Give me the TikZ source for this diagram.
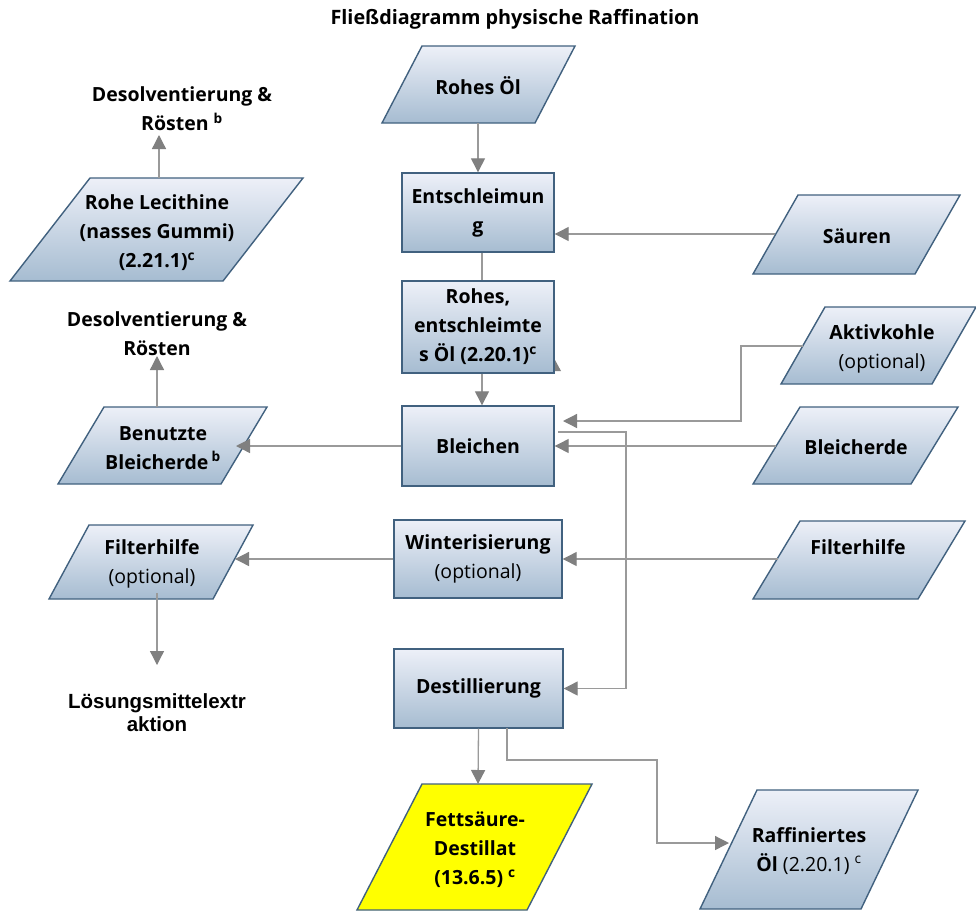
\documentclass[tikz,border=0pt]{standalone}
\usepackage{fontspec}
\setmainfont{Open Sans}
\newfontfamily\arialf{Liberation Sans}
\usetikzlibrary{arrows.meta}
\definecolor{bordc}{HTML}{41617F}
\definecolor{topc}{HTML}{EDF0F8}
\definecolor{botc}{HTML}{A6BCD1}
\definecolor{linec}{HTML}{9A9A9A}
\definecolor{tipc}{HTML}{808080}
\definecolor{yel}{HTML}{FFFF00}
\newcommand\parapath[6][parashape]{\path[#1] (#2,#3) -- ++(#4,0) -- ++(-#6,#5) -- ++(-#4,0) -- cycle;}
\begin{document}
\begin{tikzpicture}[x=1pt,y=-1pt,
  arr/.style={draw=linec, line width=1.3pt, -{Triangle[length=14pt,width=14pt,fill=tipc,color=tipc]}},
  conn/.style={draw=linec, line width=1.3pt},
  procbox/.style={draw=bordc, line width=1.4pt, top color=topc, bottom color=botc, inner sep=0pt, align=center, font=\bfseries\fontsize{19.5}{29}\selectfont},
  parashape/.style={draw=bordc, line width=1.4pt, top color=topc, bottom color=botc},
  yelshape/.style={draw=bordc, line width=1.4pt, fill=yel},
  lbl/.style={inner sep=0pt, align=center, font=\bfseries\fontsize{19.5}{29}\selectfont},
  ]
\useasboundingbox (0,0) rectangle (976,913);
\fill[white] (0,0) rectangle (976,913);

% title
\node[lbl, font=\bfseries\fontsize{19.8}{23}\selectfont] (title) at (515,19) {Fließdiagramm physische Raffination};

% parallelograms
\parapath{422}{46}{153}{77}{40}
\node[lbl] (rohoel) at (478,86) {Rohes Öl};
\coordinate (rohoel-b) at (478,123);

\parapath{798}{195}{162}{79}{45}
\node[lbl] (sauren) at (857,236) {Säuren};
\coordinate (sauren-l) at (775,234);

\parapath{825}{307}{151}{77}{44}
\node[lbl] (aktiv) at (882,349) {Aktivkohle\\{\mdseries(optional)}};
\coordinate (aktiv-l) at (803,346);
\coordinate (akt-bend) at (741,421);
\coordinate (akt-end) at (563,421);

\parapath{800}{407}{158}{77}{47}
\node[lbl] (bleicherde) at (856,447) {Bleicherde};
\coordinate (bleicherde-l) at (776,446);

\parapath{800}{521}{165}{78}{47}
\node[lbl] (filterR) at (858,547) {Filterhilfe};
\coordinate (filterR-l) at (778,559);

\parapath{90}{178}{213}{103}{80}
\node[lbl] (lecith) at (157,233) {Rohe Lecithine\\(nasses Gummi)\\(2.21.1)\textsuperscript{c}};
\coordinate (lecith-t) at (159,178);

\node[lbl] (desolv1) at (182,109) {Desolventierung \&\\Rösten \textsuperscript{b}};
\coordinate (desolv1-b) at (159,135);

\parapath{104}{407}{163}{77}{46}
\node[lbl] (benutzt) at (163,448) {Benutzte\\Bleicherde\,\textsuperscript{b}};
\coordinate (benutzt-t) at (157,407);
\coordinate (benutzt-r) at (236,446);

\node[lbl] (desolv2) at (157,334) {Desolventierung \&\\Rösten};
\coordinate (desolv2-b) at (157,356);

\parapath{89}{525}{164}{74}{40}
\node[lbl] (filterL) at (152,564) {Filterhilfe\\{\mdseries(optional)}};
\coordinate (filterL-r) at (235,559);
\coordinate (filterL-b) at (157,593);
\coordinate (loesung-t) at (157,665);
\node[lbl, font=\arialf\bfseries\fontsize{20.5}{23}\selectfont] (loesung) at (157,713) {Lösungsmittelextr\\aktion};

\parapath[yelshape]{422}{784}{170}{126}{65}
\node[lbl] (fett) at (475,850) {Fettsäure-\\Destillat\\(13.6.5) \textsuperscript{c}};
\coordinate (fett-t) at (478,784);

\parapath{757}{790}{161}{119}{57}
\node[lbl] (raff) at (809,851) {Raffiniertes\\Öl {\mdseries(2.20.1) \textsuperscript{c}}};
\coordinate (raff-l) at (729,843);

% process boxes
\node[procbox, minimum width=152, minimum height=79] (entsch) at (478,212.5) {Entschleimun\\g};
\node[procbox, minimum width=152, minimum height=92] (rohent) at (478,327) {Rohes,\\entschleimte\\s Öl (2.20.1)\textsuperscript{c}};
\node[procbox, minimum width=152, minimum height=80] (bleich) at (478,446) {Bleichen};
\node[procbox, minimum width=168, minimum height=78] (winter) at (478,559) {Winterisierung\\{\mdseries(optional)}};
\node[procbox, minimum width=169, minimum height=79] (destil) at (478.5,688.5) {Destillierung};

% stray arrowhead
\fill[tipc] (555,360) -- (561,371) -- (555,371) -- cycle;

% connectors
\draw[arr] (rohoel-b) -- (entsch.north);
\draw[conn] ([xshift=4pt]entsch.south) -- ([xshift=4pt]rohent.north);
\draw[arr] ([xshift=4pt]rohent.south) -- ([xshift=4pt]bleich.north);
\draw[arr] (sauren-l) -- (sauren-l -| entsch.east);
\draw[arr] (aktiv-l) -| (akt-bend) -- (akt-end);
\draw[arr] (bleicherde-l) -- (bleicherde-l -| bleich.east);
\coordinate (bl-out) at (558,432);
\coordinate (ds-bend) at (626,688.5);
\draw[arr] (bl-out) -| (ds-bend) -- (destil.east);
\draw[arr] (filterR-l) -- (filterR-l -| winter.east);
\draw[arr] (winter.west) -- (filterL-r);
\draw[arr] (bleich.west) -- (benutzt-r);
\draw[arr] (benutzt-t) -- (desolv2-b);
\draw[arr] (lecith-t) -- (desolv1-b);
\draw[arr] (filterL-b) -- (loesung-t);
\draw[arr] (destil.south) -- (fett-t);
\coordinate (ds-out) at (507,728);
\coordinate (rb1) at (657,760);
\draw[arr] (ds-out) |- (rb1) |- (raff-l);
\end{tikzpicture}
\end{document}
